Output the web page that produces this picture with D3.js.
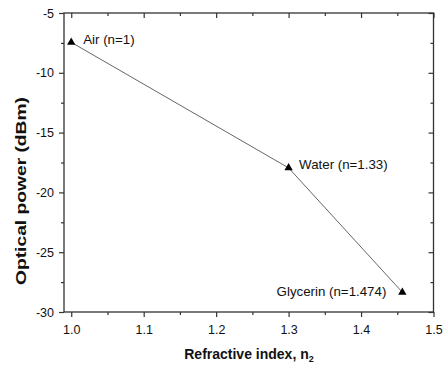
<!DOCTYPE html>
<html><head><meta charset="utf-8">
<script src="https://cdn.jsdelivr.net/npm/d3@7"></script>
<style>body{margin:0;background:#fff}svg{display:block}</style>
</head><body>
<svg id="c" width="447" height="370"></svg>
<script>
const labels = ["Air (n=1)", "Water (n=1.33)", "Glycerin (n=1.474)"];
const xValues = [1.0, 1.3, 1.457];
const yValues = [-7.45, -17.95, -28.35];
const xTicks = [1.0, 1.1, 1.2, 1.3, 1.4, 1.5];
const xMinor = [1.05, 1.15, 1.25, 1.35, 1.45];
const yTicks = [-5, -10, -15, -20, -25, -30];
const yMinor = [-7.5, -12.5, -17.5, -22.5, -27.5];

const svg = d3.select("#c");
const L = 64, R = 433.5, T = 13, B = 312;
const x = d3.scaleLinear().domain([0.99, 1.5]).range([L, R]);
const y = d3.scaleLinear().domain([-30, -5]).range([B, T]);
const font = "'Liberation Sans', Arial, sans-serif";
const axCol = "#333";
const hyph = d => String(d).replace("\u2212", "-");

svg.append("rect").attr("x", L).attr("y", T).attr("width", R - L).attr("height", B - T)
  .attr("fill", "none").attr("stroke", axCol).attr("stroke-width", 1.3);

function styleAxis(g) {
  g.select(".domain").remove();
  g.selectAll("line").attr("stroke", axCol).attr("stroke-width", 1.2);
  g.selectAll("text").attr("font-family", font).attr("font-size", 12.5).attr("fill", "#111");
}
// bottom
svg.append("g").attr("transform", `translate(0,${B})`)
  .call(d3.axisBottom(x).tickValues(xTicks).tickFormat(d => d.toFixed(1)).tickSize(5).tickPadding(8)).call(styleAxis);
svg.append("g").attr("transform", `translate(0,${B})`)
  .call(d3.axisBottom(x).tickValues(xMinor).tickFormat("").tickSize(3)).call(styleAxis);
// top (inward)
svg.append("g").attr("transform", `translate(0,${T})`)
  .call(d3.axisBottom(x).tickValues(xTicks).tickFormat("").tickSize(5)).call(styleAxis);
svg.append("g").attr("transform", `translate(0,${T})`)
  .call(d3.axisBottom(x).tickValues(xMinor).tickFormat("").tickSize(3)).call(styleAxis);
// left
svg.append("g").attr("transform", `translate(${L},0)`)
  .call(d3.axisLeft(y).tickValues(yTicks).tickFormat(d => hyph(d)).tickSize(5).tickPadding(5)).call(styleAxis);
svg.append("g").attr("transform", `translate(${L},0)`)
  .call(d3.axisLeft(y).tickValues(yMinor).tickFormat("").tickSize(3)).call(styleAxis);
// right (inward)
svg.append("g").attr("transform", `translate(${R},0)`)
  .call(d3.axisLeft(y).tickValues(yTicks).tickFormat("").tickSize(5)).call(styleAxis);
svg.append("g").attr("transform", `translate(${R},0)`)
  .call(d3.axisLeft(y).tickValues(yMinor).tickFormat("").tickSize(3)).call(styleAxis);

const data = xValues.map((v, i) => ({x: v, y: yValues[i], label: labels[i]}));

svg.append("path").datum(data)
  .attr("d", d3.line().x(d => x(d.x)).y(d => y(d.y)))
  .attr("fill", "none").attr("stroke", "#666").attr("stroke-width", 1);

svg.selectAll(".m").data(data).enter().append("path")
  .attr("transform", d => `translate(${x(d.x)},${y(d.y)})`)
  .attr("d", d3.symbol(d3.symbolTriangle, 30)).attr("fill", "#000");

const ann = [
  {dx: 12, dy: 1.5, anchor: "start"},
  {dx: 10.5, dy: 1.5, anchor: "start"},
  {dx: -16, dy: 4, anchor: "end"}
];
svg.selectAll(".lab").data(data).enter().append("text")
  .attr("x", (d, i) => x(d.x) + ann[i].dx)
  .attr("y", (d, i) => y(d.y) + ann[i].dy)
  .attr("text-anchor", (d, i) => ann[i].anchor)
  .attr("font-family", font).attr("font-size", 13.3).attr("fill", "#111")
  .text(d => d.label);

const xt = svg.append("text").attr("x", 249).attr("y", 359)
  .attr("text-anchor", "middle").attr("font-family", font).attr("font-size", 14)
  .attr("font-weight", "bold").attr("fill", "#111");
xt.append("tspan").text("Refractive index, n");
xt.append("tspan").attr("font-size", 9).attr("dy", 3).text("2");

svg.append("text").attr("transform", `translate(26,191) rotate(-90)`)
  .attr("text-anchor", "middle").attr("font-family", font).attr("font-size", 14)
  .attr("font-weight", "bold").attr("fill", "#111")
  .attr("textLength", 188).attr("lengthAdjust", "spacingAndGlyphs")
  .text("Optical power (dBm)");
</script>
</body></html>
